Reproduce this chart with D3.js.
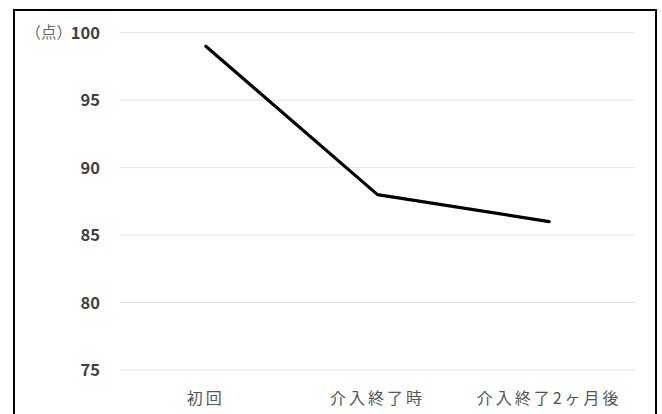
<!DOCTYPE html>
<html>
<head>
<meta charset="utf-8">
<script src="https://cdn.jsdelivr.net/npm/d3@7"></script>
<style>
  html, body { margin: 0; padding: 0; background: #fff; }
  svg { display: block; }
</style>
</head>
<body>
<svg id="chart" width="662" height="414"></svg>
<script>
// Score at each assessment point
const categories = ["初回", "介入終了時", "介入終了2ヶ月後"];
const scores = [99, 88, 86];
const yTicks = [75, 80, 85, 90, 95, 100];
const unitLabel = "（点）";

const svg = d3.select("#chart");

// outer frame
svg.append("rect")
  .attr("x", 14).attr("y", 10)
  .attr("width", 642).attr("height", 420)
  .attr("fill", "#fff")
  .attr("stroke", "#000")
  .attr("stroke-width", 2);

const plot = { left: 120, right: 635, top: 32.7, bottom: 370 };

const x = d3.scaleBand()
  .domain(categories)
  .range([plot.left, plot.right]);

const y = d3.scaleLinear()
  .domain([75, 100])
  .range([plot.bottom, plot.top]);

const font = "'Noto Sans CJK JP', 'Noto Sans', sans-serif";

// horizontal gridlines
svg.append("g")
  .selectAll("line")
  .data(yTicks)
  .join("line")
  .attr("x1", plot.left).attr("x2", plot.right)
  .attr("y1", d => y(d)).attr("y2", d => y(d))
  .attr("stroke", "#e3e3e3")
  .attr("stroke-width", 1);

// y axis labels
const yAxis = d3.axisLeft(y).tickValues(yTicks).tickSize(0).tickPadding(0);
const gy = svg.append("g")
  .attr("transform", `translate(100,0)`)
  .call(yAxis);
gy.select(".domain").remove();
gy.selectAll("text")
  .attr("font-family", font)
  .attr("font-size", 16.5)
  .attr("font-weight", "bold")
  .attr("fill", "#404040")
  .attr("dy", "0.35em");

// unit label next to the top tick
svg.append("text")
  .attr("x", 72)
  .attr("y", y(100))
  .attr("dy", "0.35em")
  .attr("text-anchor", "end")
  .attr("font-family", font)
  .attr("font-size", 15.5)
  .attr("fill", "#666")
  .text(unitLabel);

// x axis labels
const xAxis = d3.axisBottom(x).tickSize(0).tickPadding(0);
const gx = svg.append("g")
  .attr("transform", `translate(0,${plot.bottom + 28})`)
  .call(xAxis);
gx.select(".domain").remove();
gx.selectAll("text")
  .attr("font-family", font)
  .attr("font-size", 16)
  .attr("letter-spacing", "3px")
  .attr("fill", "#555")
  .attr("dy", "0.35em")
  .attr("y", 0);

// score line
const line = d3.line()
  .x((d, i) => x(categories[i]) + x.bandwidth() / 2)
  .y(d => y(d));

svg.append("path")
  .datum(scores)
  .attr("d", line)
  .attr("fill", "none")
  .attr("stroke", "#000")
  .attr("stroke-width", 3.2)
  .attr("stroke-linejoin", "round")
  .attr("stroke-linecap", "round");
</script>
</body>
</html>
